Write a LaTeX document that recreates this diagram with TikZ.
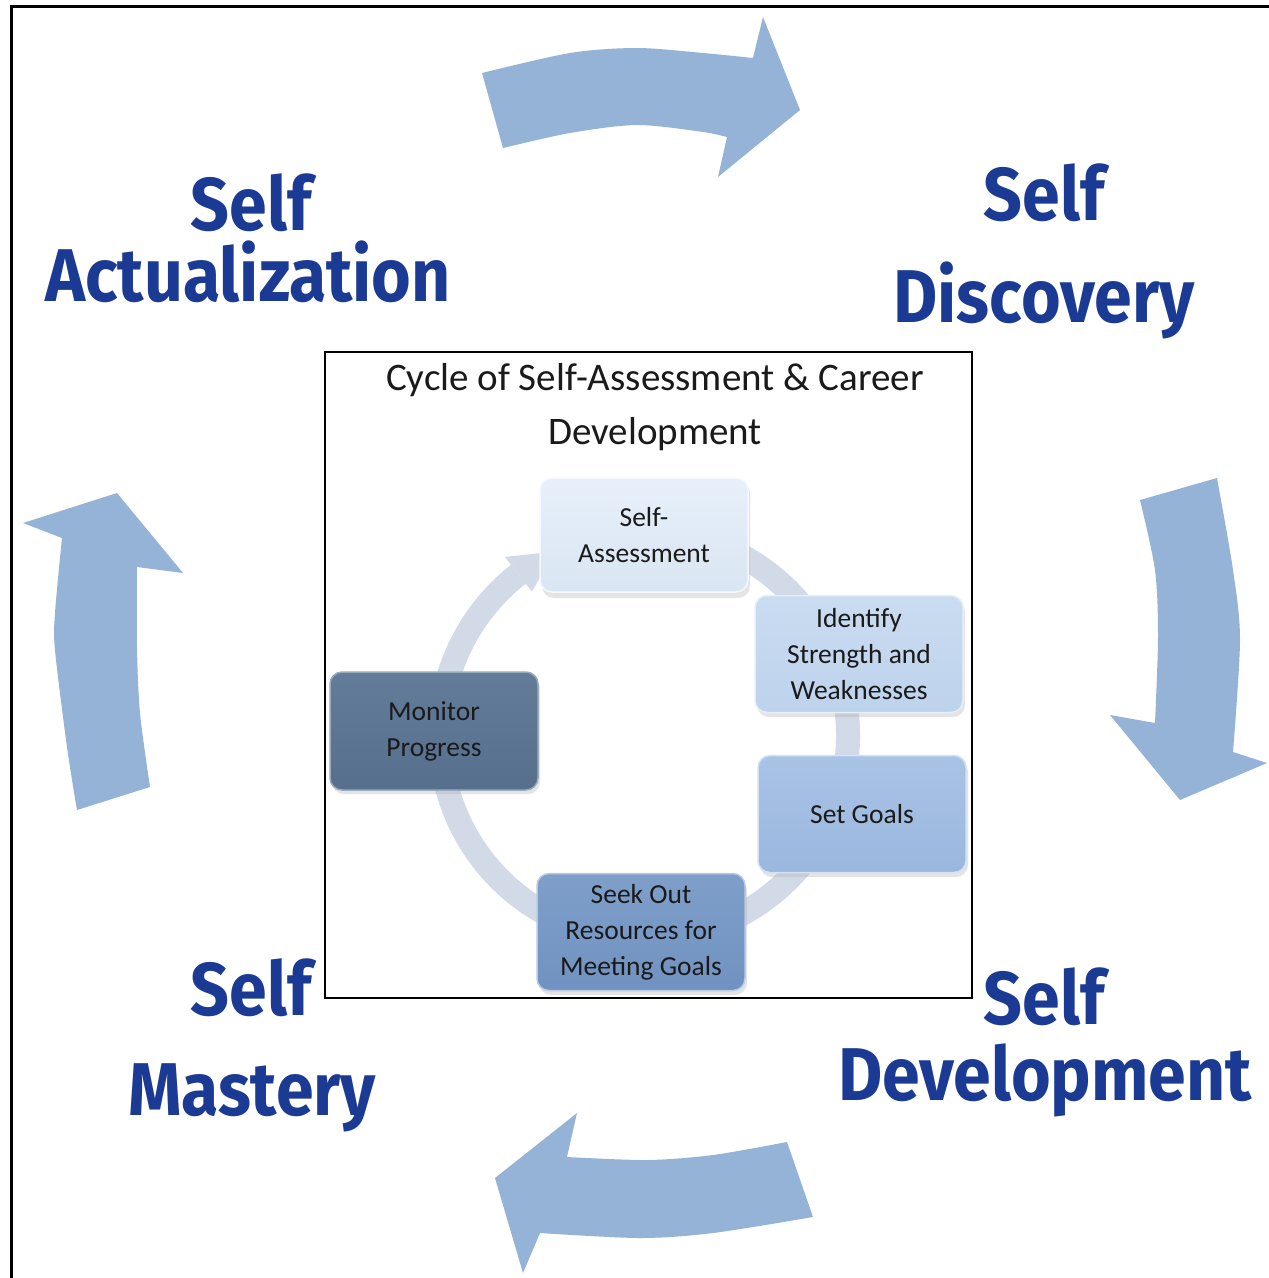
\documentclass[tikz,border=0pt]{standalone}
\usepackage{fontspec}
\setmainfont{Carlito}
\newfontfamily\deco{Fira Sans}
\usetikzlibrary{calc}
\definecolor{arrowblue}{HTML}{95B3D7}
\definecolor{navy}{HTML}{1B3A93}
\definecolor{ringc}{HTML}{D2DAE8}
\definecolor{boxA}{HTML}{E7F0FA}
\definecolor{boxAb}{HTML}{DAE5F3}
\definecolor{boxB}{HTML}{CADCF1}
\definecolor{boxBb}{HTML}{BDD2EC}
\definecolor{boxC}{HTML}{A9C3E5}
\definecolor{boxCb}{HTML}{9AB7DE}
\definecolor{boxD}{HTML}{7F9FCA}
\definecolor{boxDb}{HTML}{7192C0}
\definecolor{boxE}{HTML}{627C9A}
\definecolor{boxEb}{HTML}{566F8D}
\definecolor{txt}{HTML}{1A1A1A}
\tikzset{
  bigarrow/.style={fill=arrowblue},
  biglabel/.style={font=\deco\bfseries\fontsize{68}{76}\selectfont, text=navy, anchor=base, inner sep=0pt},
  stepbox/.style={rounded corners=12pt, minimum width=208pt, minimum height=116pt,
    line width=1.5pt, align=center, inner sep=0pt,
    font=\fontsize{27.5}{36}\selectfont, text=txt},
  boxshadow/.style={fill=black!30, opacity=0.35, rounded corners=12pt}
}
\newcommand{\tall}[1]{\scalebox{1}[1.1]{#1}}
\begin{document}
\begin{tikzpicture}[x=1pt,y=-1pt]
\useasboundingbox (0,0) rectangle (1269,1278);
\fill[white] (0,0) rectangle (1269,1278);
\draw[line width=3pt] (11,1278) -- (11,6) -- (1269,6);

% big arrows
\fill[bigarrow] plot[smooth] coordinates {(482,73) (570,53) (637,48) (703,53) (753,58)}
  -- (763,17) -- (800,110) -- (718,177) -- (727,137)
  -- plot[smooth] coordinates {(727,137) (703,132) (637,125) (570,133) (503,148)} -- cycle;
\fill[bigarrow] (1140,500) -- plot[smooth] coordinates {(1217,478) (1233,570) (1240,640) (1233,752)}
  -- (1267,763) -- (1180,800) -- (1110,715) -- (1155,723)
  -- plot[smooth] coordinates {(1155,723) (1158,637) (1155,570) (1140,500)} -- cycle;
\fill[bigarrow] (117,493) -- (183,573) -- (137,567)
  -- plot[smooth] coordinates {(137,567) (137,647) (140,713) (150,787)}
  -- (77,810) -- plot[smooth] coordinates {(77,810) (67,747) (55,650) (55,613) (62,538)}
  -- (23,523) -- cycle;
\fill[bigarrow] (495,1178) -- (577,1113) -- (567,1157)
  -- plot[smooth] coordinates {(567,1157) (647,1160) (713,1155) (787,1142)}
  -- (813,1217) -- plot[smooth] coordinates {(813,1217) (713,1233) (640,1238) (540,1233)}
  -- (523,1273) -- cycle;

% big labels
\node[biglabel] (l1a) at (251,230) {\tall{Self}};
\node[biglabel] (l1b) at (248,301) {\tall{Actualization}};
\node[biglabel] (l2a) at (1044,220) {\tall{Self}};
\node[biglabel] (l2b) at (1044,322) {\tall{Discovery}};
\node[biglabel] (l3a) at (251,1015) {\tall{Self}};
\node[biglabel] (l3b) at (252,1115) {\tall{Mastery}};
\node[biglabel] (l4a) at (1044,1024) {\tall{Self}};
\node[biglabel] (l4b) at (1045,1100) {\tall{Development}};

% inner frame
\node[draw, fill=white, line width=1.5pt, minimum width=647pt, minimum height=646pt, inner sep=0pt] (frame) at (648.5,675) {};
\node[font=\fontsize{39}{54}\selectfont, align=center, inner sep=0pt, text=txt] (title) at (655,407)
  {Cycle of Self-Assessment \& Career\\Development};

% ring
\coordinate (c) at (644,735);
\draw[ringc, line width=24pt] (c) ++(65:204pt) arc[start angle=65, end angle=-232, radius=204pt];
\fill[ringc] ($(c)+(128:226pt)$) -- ($(c)+(116:204pt)$) -- ($(c)+(128:182pt)$) -- cycle;

% boxes
\foreach \x/\y in {644/535, 859/654, 862/814, 641/932, 434/731}{
  \fill[boxshadow] (\x-102,\y-54) rectangle (\x+106,\y+63);
}
\node[stepbox, draw=white!60!boxA, top color=boxA, bottom color=boxAb, minimum height=114pt] (sa) at (644,535) {Self-\\Assessment};
\node[stepbox, draw=white!55!boxB, top color=boxB, bottom color=boxBb, minimum height=117pt] (id) at (859,654) {Identify\\Strength and\\Weaknesses};
\node[stepbox, draw=white!50!boxC, top color=boxC, bottom color=boxCb, minimum height=117pt] (sg) at (862,814) {Set Goals};
\node[stepbox, draw=white!45!boxD, top color=boxD, bottom color=boxDb, minimum height=117pt] (so) at (641,932) {Seek Out\\Resources for\\Meeting Goals};
\node[stepbox, draw=white!35!boxE, top color=boxE, bottom color=boxEb, minimum height=118pt] (mp) at (434,731) {Monitor\\Progress};
\end{tikzpicture}
\end{document}
